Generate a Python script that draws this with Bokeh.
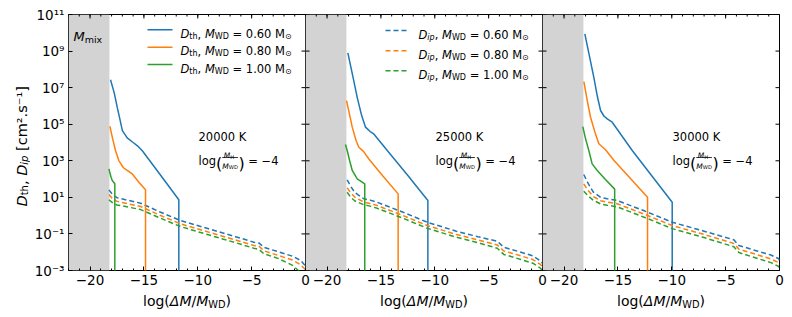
import math
from bokeh.plotting import figure
from bokeh.layouts import row, column
from bokeh.models import Label, Arrow, BoxAnnotation, LinearAxis, FixedTicker, Range1d
from bokeh.embed import file_html
from bokeh.resources import INLINE

FONT = "DejaVu Sans"
BLUE, ORANGE, GREEN = "#1f77b4", "#ff7f0e", "#2ca02c"
COLORS = [BLUE, ORANGE, GREEN]

# ---------------- data (log10 of D in cm^2/s vs log(dM/M_WD)) ----------------
X_RANGE = (-22, 0)
Y_RANGE = (-3, 11)
M_MIX = -18.2
temps = ["20000 K", "25000 K", "30000 K"]
masses = ["0.60", "0.80", "1.00"]
x_ticks = [-20, -15, -10, -5, 0]
x_minor = list(range(-22, 1))
x_tick_labels = ["−20", "−15", "−10", "−5", "0"]
y_ticks = [-3, -1, 1, 3, 5, 7, 9, 11]
y_tick_labels = ["10⁻³", "10⁻¹", "10¹", "10³", "10⁵", "10⁷", "10⁹", "10¹¹"]

# 20000 K
th20_060_x = [-18.1, -17.75, -17.48, -17.2, -17.0, -16.55, -16.0, -15.6, -15.15, -13.5, -11.76, -11.76]
th20_060_y = [7.43, 6.7, 5.93, 5.2, 4.65, 4.25, 4.0, 3.82, 3.55, 2.25, 0.87, -5.0]
th20_080_x = [-18.16, -17.9, -17.64, -17.33, -16.9, -16.55, -16.09, -15.47, -14.85, -14.85]
th20_080_y = [4.89, 4.2, 3.56, 3.01, 2.62, 2.47, 2.29, 1.83, 1.41, -5.0]
th20_100_x = [-18.25, -18.05, -17.94, -17.7, -17.7]
th20_100_y = [2.56, 2.1, 1.92, 1.74, -5.0]
ip_x20 = [-18.25, -17.9, -17.5, -16.7, -15.3, -13.5, -11.6, -9.0, -6.5, -4.8, -4.3, -3.87, -2.5, -1.2, -0.46, 0.0]
ip20_060_y = [1.41, 1.15, 0.98, 0.87, 0.68, 0.2, -0.27, -0.72, -1.15, -1.45, -1.5, -1.73, -1.98, -2.22, -2.45, -2.75]
ip20_080_y = [1.16, 0.92, 0.78, 0.68, 0.5, 0.02, -0.45, -0.9, -1.33, -1.63, -1.68, -1.92, -2.18, -2.43, -2.68, -2.95]
ip20_100_y = [0.87, 0.7, 0.58, 0.5, 0.33, -0.13, -0.6, -1.05, -1.48, -1.78, -1.85, -2.08, -2.35, -2.72, -3.1, -3.4]

# 25000 K
th25_060_x = [-18.07, -17.6, -17.2, -16.8, -16.43, -16.0, -15.66, -14.41, -12.5, -10.64, -10.64]
th25_060_y = [8.9, 7.6, 6.47, 5.5, 4.84, 4.6, 4.47, 3.56, 2.2, 0.83, -5.0]
th25_080_x = [-18.19, -17.9, -17.66, -17.3, -17.05, -16.6, -16.12, -14.8, -13.4, -13.4]
th25_080_y = [6.29, 5.5, 4.84, 4.1, 3.74, 3.5, 3.1, 2.15, 1.19, -5.0]
th25_100_x = [-18.29, -18.13, -17.9, -17.66, -17.2, -16.5, -16.5]
th25_100_y = [3.89, 3.56, 3.0, 2.47, 2.01, 1.74, -5.0]
ip_x25 = [-18.13, -17.8, -17.4, -16.58, -16.0, -15.34, -13.0, -10.7, -8.0, -6.0, -4.2, -3.59, -2.0, -0.9, -0.24, 0.0]
ip25_060_y = [1.96, 1.6, 1.25, 0.92, 0.85, 0.73, 0.2, -0.36, -0.85, -1.15, -1.4, -1.73, -2.0, -2.2, -2.45, -2.6]
ip25_080_y = [1.52, 1.25, 1.0, 0.74, 0.67, 0.55, 0.02, -0.54, -1.03, -1.33, -1.6, -1.93, -2.2, -2.4, -2.65, -2.8]
ip25_100_y = [1.28, 1.0, 0.8, 0.59, 0.52, 0.4, -0.13, -0.69, -1.18, -1.48, -1.78, -2.12, -2.4, -2.6, -2.85, -3.0]

# 30000 K
th30_060_x = [-18.07, -17.6, -17.24, -16.9, -16.61, -16.3, -15.99, -15.53, -13.67, -9.96, -9.96]
th30_060_y = [9.94, 8.6, 7.57, 6.5, 5.75, 5.45, 5.29, 5.11, 3.56, 0.73, -5.0]
th30_080_x = [-18.16, -17.85, -17.54, -17.1, -16.77, -16.15, -15.38, -12.25, -12.25]
th30_080_y = [7.33, 6.3, 5.38, 4.5, 3.93, 3.6, 3.03, 1.0, -5.0]
th30_100_x = [-18.26, -18.0, -17.7, -17.39, -16.92, -16.2, -15.3, -15.3]
th30_100_y = [4.87, 4.2, 3.56, 2.83, 2.47, 2.0, 1.45, -5.0]
ip_x30 = [-18.17, -17.8, -17.3, -16.6, -16.0, -15.07, -12.5, -9.96, -7.0, -4.24, -3.77, -2.0, -0.8, -0.06, 0.0]
ip30_060_y = [2.25, 1.8, 1.3, 1.0, 0.92, 0.83, 0.25, -0.36, -0.85, -1.32, -1.63, -1.95, -2.15, -2.36, -2.45]
ip30_080_y = [1.74, 1.4, 1.05, 0.82, 0.74, 0.65, 0.07, -0.54, -1.03, -1.52, -1.83, -2.15, -2.37, -2.58, -2.67]
ip30_100_y = [1.34, 1.1, 0.85, 0.64, 0.57, 0.48, -0.1, -0.71, -1.2, -1.7, -2.02, -2.35, -2.57, -2.78, -2.87]

TH = [
    [(th20_060_x, th20_060_y), (th20_080_x, th20_080_y), (th20_100_x, th20_100_y)],
    [(th25_060_x, th25_060_y), (th25_080_x, th25_080_y), (th25_100_x, th25_100_y)],
    [(th30_060_x, th30_060_y), (th30_080_x, th30_080_y), (th30_100_x, th30_100_y)],
]
IP = [
    [(ip_x20, ip20_060_y), (ip_x20, ip20_080_y), (ip_x20, ip20_100_y)],
    [(ip_x25, ip25_060_y), (ip_x25, ip25_080_y), (ip_x25, ip25_100_y)],
    [(ip_x30, ip30_060_y), (ip_x30, ip30_080_y), (ip_x30, ip30_100_y)],
]

# ---------------- rich text helpers (DejaVu Sans advance widths, em) ----------------
FW = {' ': .318, ',': .318, '.': .318, '=': .838, '−': .838, '(': .390, ')': .390,
      '/': .337, '[': .390, ']': .390, 'D': .770, 'M': .863, 'W': .989, 'K': .656,
      'H': .752, 't': .392, 'h': .634, 'i': .278, 'p': .635, 'm': .974, 'x': .592,
      'l': .278, 'o': .612, 'g': .635, 'c': .550, 's': .521, 'Δ': .684, '⊙': .838,
      '²': .401, '¹': .401, '⁻': .500}
for d in "0123456789":
    FW[d] = .636


def tw(s, size):
    return sum(FW.get(c, .6) for c in s) * size


def add_text(p, x, y, segs, align="left", angle=0.0):
    total = sum(tw(t, s) for t, s, st, d in segs)
    pos = -total / 2 if align == "center" else 0.0
    for t, s, st, d in segs:
        lead = tw(t[:len(t) - len(t.lstrip(" "))], s)
        txt = t.strip(" ")
        if txt:
            if angle == 0:
                lx, ly = x + pos + lead, y + d
            else:
                lx, ly = x - d, y + pos + lead
            p.add_layout(Label(x=lx, y=ly, x_units="screen", y_units="screen", text=txt,
                               angle=angle, text_font=FONT, text_font_size=f"{s}px",
                               text_font_style=st, text_align="left",
                               text_baseline="alphabetic", text_color="black"))
        pos += tw(t, s)


def hline(p, x0, x1, y, color, width, dash="solid"):
    p.add_layout(Arrow(end=None, x_start=x0, y_start=y, x_end=x1, y_end=y,
                       start_units="screen", end_units="screen",
                       line_color=color, line_width=width, line_dash=dash))


def style_axis(ax, ticks, labels, minor):
    ax.ticker = FixedTicker(ticks=ticks, minor_ticks=minor)
    ax.major_tick_in = 4
    ax.major_tick_out = 0
    ax.minor_tick_in = 2
    ax.minor_tick_out = 0
    ax.major_tick_line_color = "black"
    ax.minor_tick_line_color = "black"
    ax.axis_line_color = None
    ax.major_label_overrides = dict(zip(ticks, labels))
    ax.major_label_text_font = FONT
    ax.major_label_text_font_size = "13.5px"
    ax.major_label_text_color = "black"
    ax.major_label_standoff = 4


def bare(p):
    p.xgrid.visible = False
    p.ygrid.visible = False
    p.border_fill_alpha = 0
    p.background_fill_alpha = 0


def edge_ticks(p, left):
    # inward tick marks on the top, right (and left) frame edges
    ny = len(y_ticks)
    p.scatter([X_RANGE[1]] * ny, y_ticks, marker="dash", size=8, line_color="black", line_width=1)
    if left:
        p.scatter([X_RANGE[0]] * ny, y_ticks, marker="dash", size=8, line_color="black", line_width=1)
    p.scatter(x_ticks, [Y_RANGE[1]] * len(x_ticks), marker="dash", angle=math.pi / 2,
              size=8, line_color="black", line_width=1)
    p.scatter(x_minor, [Y_RANGE[1]] * len(x_minor), marker="dash", angle=math.pi / 2,
              size=4, line_color="black", line_width=1)


FS = 11.5
DASH = "5 3"
panels = []
for i in range(3):
    p = figure(frame_width=237, frame_height=256,
               x_range=Range1d(*X_RANGE), y_range=Range1d(*Y_RANGE),
               output_backend="svg", toolbar_location=None,
               x_axis_location=None, y_axis_location=None,
               min_border_top=14, min_border_bottom=22,
               min_border_left=38 if i == 0 else 12,
               min_border_right=12 if i < 2 else 13)
    if i > 0:
        p.margin = (0, 0, 0, -24)
    bare(p)
    p.outline_line_color = "black"
    p.outline_line_width = 1
    bx = LinearAxis()
    style_axis(bx, x_ticks, x_tick_labels, x_minor)
    p.add_layout(bx, "below")
    if i == 0:
        ly = LinearAxis()
        style_axis(ly, y_ticks, y_tick_labels, [])
        p.add_layout(ly, "left")

    p.add_layout(BoxAnnotation(right=M_MIX, fill_color="#d3d3d3", fill_alpha=1.0,
                               line_color=None, level="underlay"))
    for k in range(3):
        xs, ys = TH[i][k]
        p.line(xs, ys, line_color=COLORS[k], line_width=1.5)
        xs, ys = IP[i][k]
        p.line(xs, ys, line_color=COLORS[k], line_width=1.5, line_dash=DASH)
    edge_ticks(p, left=(i > 0))

    # temperature and hydrogen-mass annotations
    add_text(p, 130, 133.3, [(temps[i], FS, "normal", 0)])
    base = 110
    add_text(p, 130, base, [("log", FS, "normal", 0)])
    x1 = 130 + tw("log", FS)
    add_text(p, x1, base - 2.5, [("(", 16, "normal", 0)])
    x2 = x1 + tw("(", 16)
    fw = tw("M", 7.5) + tw("WD", 5.2)
    add_text(p, x2 + 1.5, base + 5, [("M", 7.5, "italic", 0), ("H", 5.2, "normal", -1)])
    add_text(p, x2, base - 5.8, [("M", 7.5, "italic", 0), ("WD", 5.2, "normal", -1)])
    hline(p, x2, x2 + fw, base + 3, "black", 0.8)
    x3 = x2 + fw + 0.5
    add_text(p, x3, base - 2.5, [(")", 16, "normal", 0)])
    x4 = x3 + tw(")", 16)
    add_text(p, x4, base, [(" = −4", FS, "normal", 0)])
    panels.append(p)

p1, p2, p3 = panels
# M_mix label
add_text(p1, 5, 234, [("M", 13, "italic", 0), ("mix", 9.5, "normal", -3)])

# legends
rows1 = [240.7, 223.3, 206.0]
for k in range(3):
    hline(p1, 79, 104, rows1[k], COLORS[k], 1.5)
    add_text(p1, 112, rows1[k] - 4.2,
             [("D", FS, "italic", 0), ("th", 8, "normal", -2.5), (", ", FS, "normal", 0),
              ("M", FS, "italic", 0), ("WD", 8, "normal", -2.5),
              (" = " + masses[k] + " M", FS, "normal", 0), ("⊙", 8, "normal", -2.5)])
rows2 = [240.0, 219.7, 199.7]
for k in range(3):
    hline(p2, 80, 103, rows2[k], COLORS[k], 1.5, DASH)
    add_text(p2, 113, rows2[k] - 4.2,
             [("D", FS, "italic", 0), ("ip", 8, "italic", -2.5), (", ", FS, "normal", 0),
              ("M", FS, "italic", 0), ("WD", 8, "normal", -2.5),
              (" = " + masses[k] + " M", FS, "normal", 0), ("⊙", 8, "normal", -2.5)])

# y-axis label strip (left of panel 1)
ylab = figure(frame_width=30, frame_height=256, x_range=Range1d(0, 1), y_range=Range1d(0, 1),
              output_backend="svg", toolbar_location=None,
              x_axis_location=None, y_axis_location=None,
              min_border_top=14, min_border_bottom=22, min_border_left=0, min_border_right=0)
bare(ylab)
ylab.outline_line_color = None
add_text(ylab, 21, 124, [("D", 14.5, "italic", 0), ("th", 10, "normal", -3),
                         (", ", 14.5, "normal", 0), ("D", 14.5, "italic", 0),
                         ("ip", 10, "italic", -3), (" [cm².s⁻¹]", 14.5, "normal", 0)],
         align="center", angle=math.pi / 2)

# x-axis label strip (below the panels)
xlab = figure(frame_width=792, frame_height=24, x_range=Range1d(0, 1), y_range=Range1d(0, 1),
              output_backend="svg", toolbar_location=None,
              x_axis_location=None, y_axis_location=None,
              min_border_top=0, min_border_bottom=0, min_border_left=0, min_border_right=0)
bare(xlab)
xlab.outline_line_color = None
for cx in (186.5, 423.5, 660.5):
    add_text(xlab, cx, 15.5, [("log(", 14, "normal", 0), ("ΔM", 14, "italic", 0),
                              ("/", 14, "normal", 0), ("M", 14, "italic", 0),
                              ("WD", 9.8, "normal", -3), (")", 14, "normal", 0)],
             align="center")

layout = column(row(ylab, p1, p2, p3), xlab)
open("out.html", "w").write(file_html(layout, INLINE))
